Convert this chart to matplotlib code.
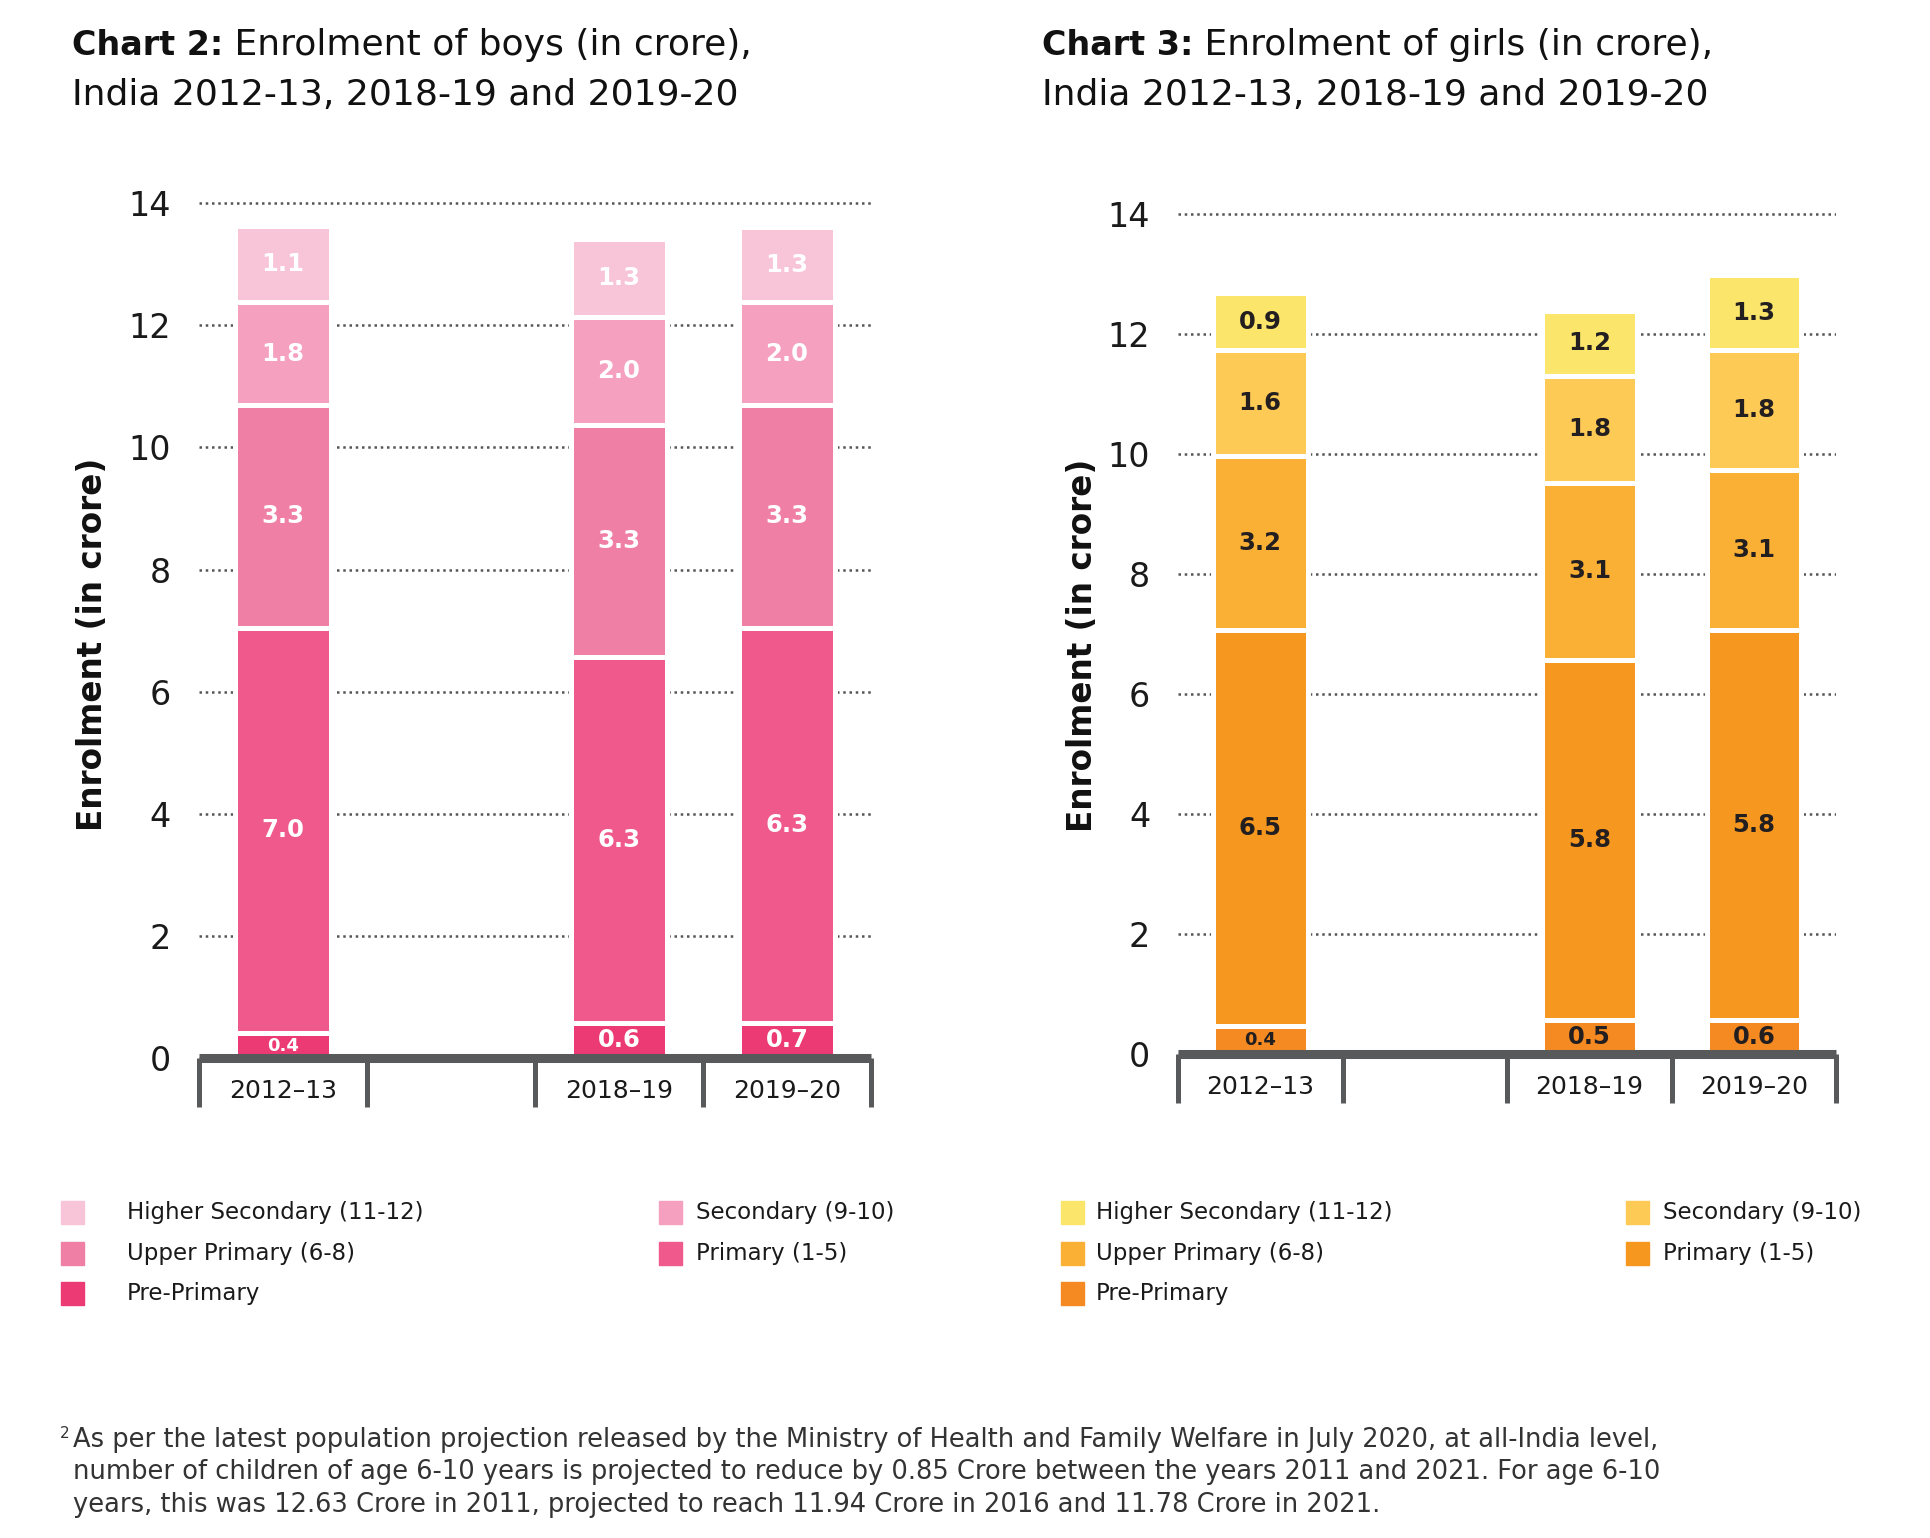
import numpy as np
import matplotlib.pyplot as plt
from matplotlib.patches import Rectangle

plt.rcParams['font.family'] = ['DejaVu Sans']

# Categories (second slot is an empty gap on the axis)
years = ['2012–13', '', '2018–19', '2019–20']

# Boys: segment heights as drawn (crore), bottom to top
boys_pre = [0.40, np.nan, 0.57, 0.57]
boys_pri = [6.65, np.nan, 5.99, 6.48]
boys_up = [3.64, np.nan, 3.80, 3.64]
boys_sec = [1.69, np.nan, 1.77, 1.69]
boys_hs = [1.25, np.nan, 1.28, 1.23]

# Boys: printed labels
boys_pre_lab = ['0.4', '', '0.6', '0.7']
boys_pri_lab = ['7.0', '', '6.3', '6.3']
boys_up_lab = ['3.3', '', '3.3', '3.3']
boys_sec_lab = ['1.8', '', '2.0', '2.0']
boys_hs_lab = ['1.1', '', '1.3', '1.3']

# Girls: segment heights as drawn (crore), bottom to top
girls_pre = [0.47, np.nan, 0.57, 0.57]
girls_pri = [6.60, np.nan, 6.00, 6.49]
girls_up = [2.90, np.nan, 2.95, 2.67]
girls_sec = [1.76, np.nan, 1.78, 2.00]
girls_hs = [0.95, np.nan, 1.09, 1.25]

# Girls: printed labels
girls_pre_lab = ['0.4', '', '0.5', '0.6']
girls_pri_lab = ['6.5', '', '5.8', '5.8']
girls_up_lab = ['3.2', '', '3.1', '3.1']
girls_sec_lab = ['1.6', '', '1.8', '1.8']
girls_hs_lab = ['0.9', '', '1.2', '1.3']

levels = ['Pre-Primary', 'Primary (1-5)', 'Upper Primary (6-8)',
          'Secondary (9-10)', 'Higher Secondary (11-12)']
boys_colors = ['#EC3A74', '#EF598B', '#EF7FA4', '#F4A0BE', '#F8C4D7']
girls_colors = ['#F58A22', '#F6981F', '#FAB034', '#FDCA55', '#FBE66B']

AXIS_GREY = '#58595B'


def stacked_chart(ax, series, labels, colors, text_color):
    x = np.arange(len(years))
    bottom = np.zeros(len(years))
    for k, (vals, labs) in enumerate(zip(series, labels)):
        vals = np.array(vals, dtype=float)
        ax.bar(x, vals, bottom=bottom, width=0.575, color=colors[k],
               edgecolor='white', linewidth=3.6, zorder=1)
        for i in range(len(years)):
            if np.isnan(vals[i]):
                continue
            size = 13 if vals[i] < 0.5 else 17.5
            ax.text(x[i], bottom[i] + vals[i] / 2, labs[i], ha='center',
                    va='center', fontsize=size, fontweight='bold',
                    color=text_color, zorder=2)
        bottom = bottom + np.nan_to_num(vals)

    ax.set_xlim(-0.5, len(years) - 0.5)
    ax.set_ylim(0, 14.05)
    ax.set_yticks(np.arange(0, 15, 2))
    ax.set_xticks(x)
    ax.set_xticklabels(years, fontsize=18, color='#1a1a1a')
    ax.set_xticks(np.arange(-0.5, len(years)), minor=True)
    ax.tick_params(axis='y', length=0, pad=20, labelsize=24, labelcolor='#1a1a1a')
    ax.tick_params(axis='x', which='major', length=0, pad=15)
    ax.tick_params(axis='x', which='minor', length=35, width=3.6,
                   color=AXIS_GREY, direction='out')
    for s in ['left', 'right', 'top']:
        ax.spines[s].set_visible(False)
    ax.spines['bottom'].set_linewidth(6.5)
    ax.spines['bottom'].set_color(AXIS_GREY)
    ax.spines['bottom'].set_capstyle('butt')
    ax.yaxis.grid(True, linestyle=(0, (1, 1.5)), color='#555555', linewidth=1.8)
    ax.set_axisbelow(True)


fig = plt.figure(figsize=(19.31, 15.38), dpi=100)

ax1 = fig.add_axes([0.103, 0.3122, 0.348, 0.5576])
stacked_chart(ax1, [boys_pre, boys_pri, boys_up, boys_sec, boys_hs],
              [boys_pre_lab, boys_pri_lab, boys_up_lab, boys_sec_lab, boys_hs_lab],
              boys_colors, 'white')

ax2 = fig.add_axes([0.610, 0.3147, 0.341, 0.5481])
stacked_chart(ax2, [girls_pre, girls_pri, girls_up, girls_sec, girls_hs],
              [girls_pre_lab, girls_pri_lab, girls_up_lab, girls_sec_lab, girls_hs_lab],
              girls_colors, '#231F20')

# Titles (bold prefix + regular rest)
for x0, num, who in [(0.0373, '2', 'boys'), (0.5396, '3', 'girls')]:
    t = fig.text(x0, 0.964, f'Chart {num}:', fontsize=24, fontweight='bold',
                 color='#111111', va='baseline')
    ax1.annotate(f' Enrolment of {who} (in crore),', xy=(1, 0), xycoords=t,
                 va='bottom', ha='left', fontsize=26, color='#111111',
                 annotation_clip=False)
    fig.text(x0, 0.932, 'India 2012-13, 2018-19 and 2019-20', fontsize=26,
             color='#111111', va='baseline')

# Y axis labels
fig.text(0.048, 0.581, 'Enrolment (in crore)', rotation=90, ha='center',
         va='center', fontsize=23.5, fontweight='bold', color='#111111')
fig.text(0.5605, 0.5806, 'Enrolment (in crore)', rotation=90, ha='center',
         va='center', fontsize=23.5, fontweight='bold', color='#111111')

# Legends: rows of (level index) in reading order
legend_order = [4, 3, 2, 1, 0]
row_y = [0.2114, 0.1848, 0.1587]
sq_w, sq_h = 23 / 1931, 23 / 1538
legend_cols = [
    (boys_colors, [(0.0316, 0.0658), (0.3412, 0.3603)]),
    (girls_colors, [(0.5493, 0.5675), (0.8422, 0.8613)]),
]
for colors, cols in legend_cols:
    for n, k in enumerate(legend_order):
        r, c = divmod(n, 2)
        sx, tx = cols[c]
        fig.add_artist(Rectangle((sx, row_y[r] - sq_h / 2), sq_w, sq_h,
                                 transform=fig.transFigure, color=colors[k]))
        fig.text(tx, row_y[r], levels[k], fontsize=16.5, va='center',
                 color='#1a1a1a')

# Footnote
foot = [
    'As per the latest population projection released by the Ministry of Health and Family Welfare in July 2020, at all-India level,',
    'number of children of age 6-10 years is projected to reduce by 0.85 Crore between the years 2011 and 2021. For age 6-10',
    'years, this was 12.63 Crore in 2011, projected to reach 11.94 Crore in 2016 and 11.78 Crore in 2021.',
]
fig.text(0.031, 0.065, '2', fontsize=11, color='#333333', va='baseline')
for line, y in zip(foot, [0.0589, 0.0386, 0.0167]):
    fig.text(0.038, y, line, fontsize=18.5, color='#333333', va='baseline')

fig.savefig('out.png', dpi=100)
